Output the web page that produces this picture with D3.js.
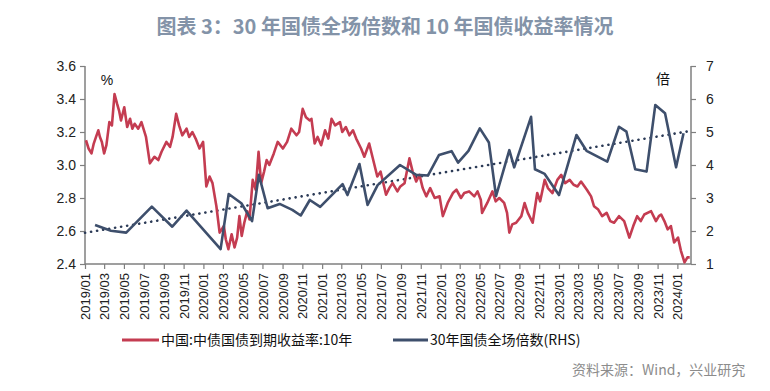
<!DOCTYPE html>
<html>
<head>
<meta charset="utf-8">
<script src="https://cdn.jsdelivr.net/npm/d3@7"></script>
<style>
  html, body { margin: 0; padding: 0; background: #fff; }
  svg { display: block; }
</style>
</head>
<body>
<svg id="chart" width="770" height="391"></svg>
<script>
// ---------- DATA ----------
const titleText = "图表 3：30 年国债全场倍数和 10 年国债收益率情况";
const seriesNames = ["中国:中债国债到期收益率:10年", "30年国债全场倍数(RHS)"];
const sourceText = "资料来源：Wind，兴业研究";

// 10Y yield (%), left axis  [date, value]
const yieldDates = ["2019-01-04","2019-01-12","2019-01-21","2019-01-28","2019-02-04","2019-02-11","2019-02-16","2019-02-22","2019-03-01","2019-03-08","2019-03-17","2019-03-25","2019-04-02","2019-04-10","2019-04-16","2019-04-22","2019-05-02","2019-05-11","2019-05-20","2019-05-27","2019-06-03","2019-06-14","2019-06-24","2019-07-08","2019-07-20","2019-08-03","2019-08-15","2019-08-25","2019-09-09","2019-09-20","2019-09-28","2019-10-09","2019-10-18","2019-10-28","2019-11-10","2019-11-18","2019-11-28","2019-12-08","2019-12-20","2019-12-31","2020-01-10","2020-01-20","2020-01-29","2020-02-10","2020-02-20","2020-03-04","2020-03-10","2020-03-18","2020-03-28","2020-04-06","2020-04-14","2020-04-21","2020-04-28","2020-05-06","2020-05-15","2020-05-22","2020-06-01","2020-06-10","2020-06-19","2020-06-27","2020-07-06","2020-07-14","2020-07-22","2020-08-05","2020-08-17","2020-09-02","2020-09-15","2020-09-28","2020-10-14","2020-10-22","2020-11-02","2020-11-12","2020-11-24","2020-11-29","2020-12-09","2020-12-18","2020-12-29","2021-01-10","2021-01-20","2021-01-30","2021-02-10","2021-02-25","2021-03-04","2021-03-15","2021-03-26","2021-04-06","2021-04-16","2021-05-01","2021-05-11","2021-05-26","2021-06-05","2021-06-20","2021-06-30","2021-07-11","2021-07-17","2021-07-27","2021-08-06","2021-08-21","2021-08-30","2021-09-12","2021-09-27","2021-10-07","2021-10-18","2021-10-28","2021-11-07","2021-11-18","2021-11-30","2021-12-14","2021-12-29","2022-01-08","2022-01-23","2022-02-08","2022-02-19","2022-03-05","2022-03-15","2022-03-30","2022-04-15","2022-04-25","2022-05-05","2022-05-09","2022-05-25","2022-06-10","2022-06-20","2022-07-01","2022-07-16","2022-07-25","2022-08-01","2022-08-10","2022-08-22","2022-09-07","2022-09-17","2022-09-27","2022-10-12","2022-10-26","2022-11-04","2022-11-18","2022-11-28","2022-12-12","2022-12-27","2023-01-08","2023-01-20","2023-02-03","2023-02-15","2023-02-27","2023-03-10","2023-03-28","2023-04-10","2023-04-19","2023-05-02","2023-05-14","2023-05-28","2023-06-08","2023-06-20","2023-07-05","2023-07-21","2023-08-06","2023-08-18","2023-08-30","2023-09-10","2023-09-21","2023-10-12","2023-10-27","2023-11-05","2023-11-12","2023-11-22","2023-12-02","2023-12-12","2023-12-22","2024-01-03","2024-01-12","2024-01-23","2024-02-01","2024-02-08"];
const yieldValues = [3.15,3.10,3.07,3.13,3.17,3.21,3.17,3.14,3.07,3.12,3.26,3.24,3.43,3.37,3.33,3.27,3.35,3.23,3.28,3.22,3.25,3.22,3.26,3.17,3.01,3.05,3.03,3.08,3.14,3.11,3.17,3.31,3.24,3.18,3.22,3.17,3.20,3.16,3.10,3.14,2.87,2.93,2.89,2.75,2.59,2.63,2.55,2.49,2.58,2.50,2.56,2.69,2.57,2.65,2.72,2.67,2.91,2.85,3.08,2.89,2.96,3.03,3.00,3.07,3.14,3.10,3.14,3.22,3.18,3.20,3.34,3.29,3.27,3.28,3.13,3.17,3.12,3.21,3.16,3.28,3.24,3.26,3.20,3.23,3.18,3.21,3.16,3.10,3.05,3.13,3.05,2.93,2.96,2.87,2.82,2.86,2.89,2.84,2.87,2.89,3.04,2.96,2.90,2.94,2.86,2.81,2.86,2.80,2.81,2.69,2.77,2.83,2.85,2.80,2.83,2.84,2.81,2.84,2.79,2.71,2.77,2.84,2.78,2.80,2.77,2.71,2.59,2.64,2.65,2.69,2.77,2.71,2.65,2.83,2.78,2.91,2.86,2.83,2.91,2.94,2.89,2.91,2.88,2.87,2.90,2.85,2.81,2.75,2.73,2.69,2.71,2.66,2.65,2.69,2.66,2.56,2.63,2.69,2.66,2.70,2.72,2.66,2.69,2.70,2.66,2.61,2.63,2.53,2.56,2.48,2.41,2.44,2.44];

// 30Y bid-to-cover multiple, right axis
const bidDates = ["2019-02-01","2019-03-22","2019-05-08","2019-07-26","2019-09-27","2019-11-10","2020-02-23","2020-03-19","2020-04-27","2020-05-30","2020-06-20","2020-07-17","2020-08-23","2020-10-01","2020-10-27","2020-11-24","2020-12-26","2021-03-05","2021-03-20","2021-04-26","2021-05-21","2021-06-21","2021-08-29","2021-10-18","2021-11-23","2021-12-27","2022-02-04","2022-02-24","2022-03-28","2022-05-02","2022-05-30","2022-06-21","2022-08-01","2022-08-16","2022-10-07","2022-10-19","2022-11-18","2023-01-01","2023-02-24","2023-03-27","2023-05-30","2023-07-05","2023-07-28","2023-08-24","2023-09-28","2023-10-25","2023-11-24","2023-12-28","2024-01-20"];
const bidValues = [2.18,2.01,1.95,2.74,2.13,2.62,1.45,3.12,2.84,2.30,3.70,2.69,2.82,2.64,2.47,2.94,2.73,3.42,3.09,4.03,2.79,3.39,4.00,3.70,3.68,4.30,4.42,4.07,4.43,5.11,4.68,3.06,4.45,3.93,5.46,3.87,3.73,3.09,4.91,4.43,4.10,5.16,5.01,3.87,3.80,5.82,5.57,3.93,4.96];

const leftTicks = [2.4, 2.6, 2.8, 3.0, 3.2, 3.4, 3.6];
const rightTicks = [1, 2, 3, 4, 5, 6, 7];
const xStart = "2019-01-01", xEnd = "2024-02-12";

// ---------- LAYOUT ----------
const svg = d3.select("#chart");
const M = { left: 85, right: 691, top: 66, bottom: 264 };
const parse = d3.timeParse("%Y-%m-%d");

const x = d3.scaleTime().domain([parse(xStart), parse(xEnd)]).range([M.left, M.right]);
const yL = d3.scaleLinear().domain([2.4, 3.6]).range([M.bottom, M.top]);
const yR = d3.scaleLinear().domain([1, 7]).range([M.bottom, M.top]);

const yieldData = yieldDates.map((d, i) => ({ d: parse(d), v: yieldValues[i] }));
const bidData = bidDates.map((d, i) => ({ d: parse(d), v: bidValues[i] }));

const red = "#c43c51", blue = "#3e4f6c", dotc = "#2c3b57", axisc = "#7f7f7f";
const tickFont = "'Liberation Sans', Arial, sans-serif";

// title
svg.append("text").attr("x", 385).attr("y", 34).attr("text-anchor", "middle")
  .attr("font-family", "'Noto Sans CJK SC', sans-serif").attr("font-weight", "bold")
  .attr("font-size", 20).attr("fill", "#8393a8").text(titleText);

// axes
const axL = svg.append("g").attr("transform", `translate(${M.left},0)`)
  .call(d3.axisLeft(yL).tickValues(leftTicks).tickFormat(d3.format(".1f")).tickSize(5).tickPadding(4));
const axR = svg.append("g").attr("transform", `translate(${M.right},0)`)
  .call(d3.axisRight(yR).tickValues(rightTicks).tickFormat(d3.format("d")).tickSize(5).tickPadding(10));
const axB = svg.append("g").attr("transform", `translate(0,${M.bottom})`)
  .call(d3.axisBottom(x).ticks(d3.timeMonth.every(2)).tickFormat(d3.timeFormat("%Y/%m")).tickSize(5).tickSizeOuter(0));

[axL, axR, axB].forEach(g => {
  g.selectAll("path").attr("stroke", axisc).attr("stroke-width", 1.5);
  g.selectAll("line").attr("stroke", axisc).attr("stroke-width", 1.2);
  g.selectAll("text").attr("font-family", tickFont).attr("font-size", 14).attr("fill", "#222");
});
axL.select(".domain").attr("d", `M0,${M.top}V${M.bottom}`);
axR.select(".domain").attr("d", `M0,${M.top}V${M.bottom}`);
axB.select(".domain").attr("d", `M${M.left},0H${M.right}`);
axB.selectAll("text")
  .attr("font-size", 13)
  .attr("text-anchor", "end")
  .attr("transform", "rotate(-90)")
  .attr("x", -9).attr("y", 0).attr("dy", "0.35em");

// unit labels
svg.append("text").attr("x", 107).attr("y", 85).attr("text-anchor", "middle")
  .attr("font-family", tickFont).attr("font-size", 14).attr("fill", "#111").text("%");
svg.append("text").attr("x", 663).attr("y", 84).attr("text-anchor", "middle")
  .attr("font-family", "'Noto Sans CJK SC', sans-serif").attr("font-size", 14).attr("fill", "#111").text("倍");

// trend line (least squares of bid multiple vs time)
const xs = bidData.map(p => +p.d), ys = bidData.map(p => p.v);
const mx = d3.mean(xs), my = d3.mean(ys);
const slope = d3.sum(xs, (v, i) => (v - mx) * (ys[i] - my)) / d3.sum(xs, v => (v - mx) ** 2);
const icpt = my - slope * mx;
const dom = x.domain();
svg.append("line")
  .attr("x1", x(dom[0])).attr("y1", yR(icpt + slope * +dom[0]))
  .attr("x2", x(dom[1])).attr("y2", yR(icpt + slope * +dom[1]))
  .attr("stroke", dotc).attr("stroke-width", 2.6).attr("stroke-linecap", "round")
  .attr("stroke-dasharray", "0.1 6");

// lines
const lineL = d3.line().x(p => x(p.d)).y(p => yL(p.v));
const lineR = d3.line().x(p => x(p.d)).y(p => yR(p.v));
svg.append("path").datum(yieldData).attr("d", lineL).attr("fill", "none")
  .attr("stroke", red).attr("stroke-width", 2.6).attr("stroke-linejoin", "round");
svg.append("path").datum(bidData).attr("d", lineR).attr("fill", "none")
  .attr("stroke", blue).attr("stroke-width", 2.6).attr("stroke-linejoin", "round");

// legend
const lg = svg.append("g").attr("font-family", "'Noto Sans CJK SC', sans-serif").attr("font-size", 14).attr("fill", "#111");
const legendItems = [
  { name: seriesNames[0], color: red, x0: 122, x1: 159 },
  { name: seriesNames[1], color: blue, x0: 393, x1: 428 }
];
legendItems.forEach(it => {
  lg.append("line").attr("x1", it.x0).attr("x2", it.x1).attr("y1", 340).attr("y2", 340)
    .attr("stroke", it.color).attr("stroke-width", 3);
  lg.append("text").attr("x", it.x1 + 2).attr("y", 345).text(it.name);
});

// source
svg.append("text").attr("x", 572).attr("y", 375)
  .attr("font-family", "'Noto Sans CJK SC', sans-serif").attr("font-size", 14).attr("fill", "#8c8c8c")
  .text(sourceText);
</script>
</body>
</html>
